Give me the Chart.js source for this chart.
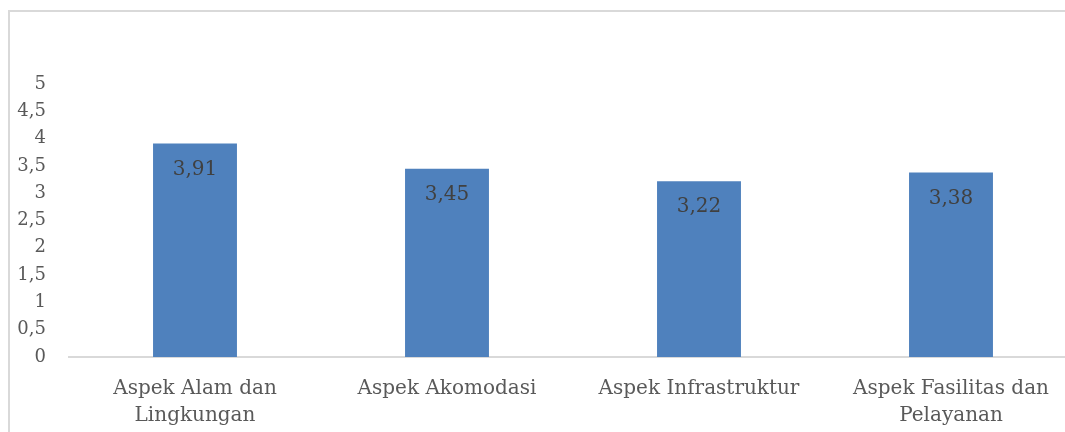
<!DOCTYPE html>
<html>
<head>
<meta charset="utf-8">
<script src="https://cdn.jsdelivr.net/npm/chart.js@4"></script>
<style>
  html, body { margin: 0; padding: 0; background: #ffffff; }
  #wrap { position: relative; width: 1065px; height: 432px; overflow: hidden; }
  #chart { position: absolute; left: 0; top: 0; }
</style>
</head>
<body>
<div id="wrap">
  <canvas id="chart" width="1090" height="432"></canvas>
</div>
<script>
const categories = [
  ["Aspek Alam dan", "Lingkungan"],
  "Aspek Akomodasi",
  "Aspek Infrastruktur",
  ["Aspek Fasilitas dan", "Pelayanan"]
];
const scores = [3.91, 3.45, 3.22, 3.38];
const yTicks = [0, 0.5, 1, 1.5, 2, 2.5, 3, 3.5, 4, 4.5, 5];

const fontFamily = "'DejaVu Serif', 'Liberation Serif', serif";

function formatComma(value) {
  return String(value).replace(".", ",");
}

// outer chart frame: only the left and top edges fall inside the picture
const chartFrame = {
  id: "chartFrame",
  beforeDraw(chart) {
    const ctx = chart.ctx;
    ctx.save();
    ctx.strokeStyle = "#d9d9d9";
    ctx.lineWidth = 2;
    ctx.beginPath();
    ctx.moveTo(9, chart.height);
    ctx.lineTo(9, 11);
    ctx.lineTo(chart.width, 11);
    ctx.stroke();
    ctx.restore();
  }
};

// value printed inside each bar, near its top
const valueLabels = {
  id: "valueLabels",
  afterDatasetsDraw(chart) {
    const ctx = chart.ctx;
    const meta = chart.getDatasetMeta(0);
    ctx.save();
    ctx.font = `20px ${fontFamily}`;
    ctx.fillStyle = "#404040";
    ctx.textAlign = "center";
    ctx.textBaseline = "middle";
    meta.data.forEach((bar, i) => {
      ctx.fillText(formatComma(scores[i]), bar.x, bar.y + 26);
    });
    ctx.restore();
  }
};

new Chart(document.getElementById("chart"), {
  type: "bar",
  data: {
    labels: categories,
    datasets: [
      {
        data: scores,
        backgroundColor: "#4f81bd",
        barPercentage: 0.333,
        categoryPercentage: 1
      }
    ]
  },
  options: {
    responsive: false,
    animation: false,
    layout: {
      padding: { top: 84, right: 13, bottom: 0, left: 0 }
    },
    plugins: {
      legend: { display: false },
      tooltip: { enabled: false }
    },
    scales: {
      x: {
        grid: { display: false, drawTicks: false },
        border: { display: true, color: "#d9d9d9", width: 2 },
        ticks: {
          color: "#595959",
          font: { family: fontFamily, size: 20, lineHeight: 1.35 },
          padding: 18,
          maxRotation: 0,
          autoSkip: false
        },
        afterFit(scale) {
          scale.height = 75;
        }
      },
      y: {
        min: 0,
        max: 5,
        afterBuildTicks(scale) {
          scale.ticks = yTicks.map(v => ({ value: v }));
        },
        grid: { display: false, drawTicks: false },
        border: { display: false },
        ticks: {
          color: "#595959",
          font: { family: fontFamily, size: 18 },
          padding: 23,
          callback: value => formatComma(value)
        },
        afterFit(scale) {
          scale.width = 69;
        }
      }
    }
  },
  plugins: [chartFrame, valueLabels]
});
</script>
</body>
</html>
